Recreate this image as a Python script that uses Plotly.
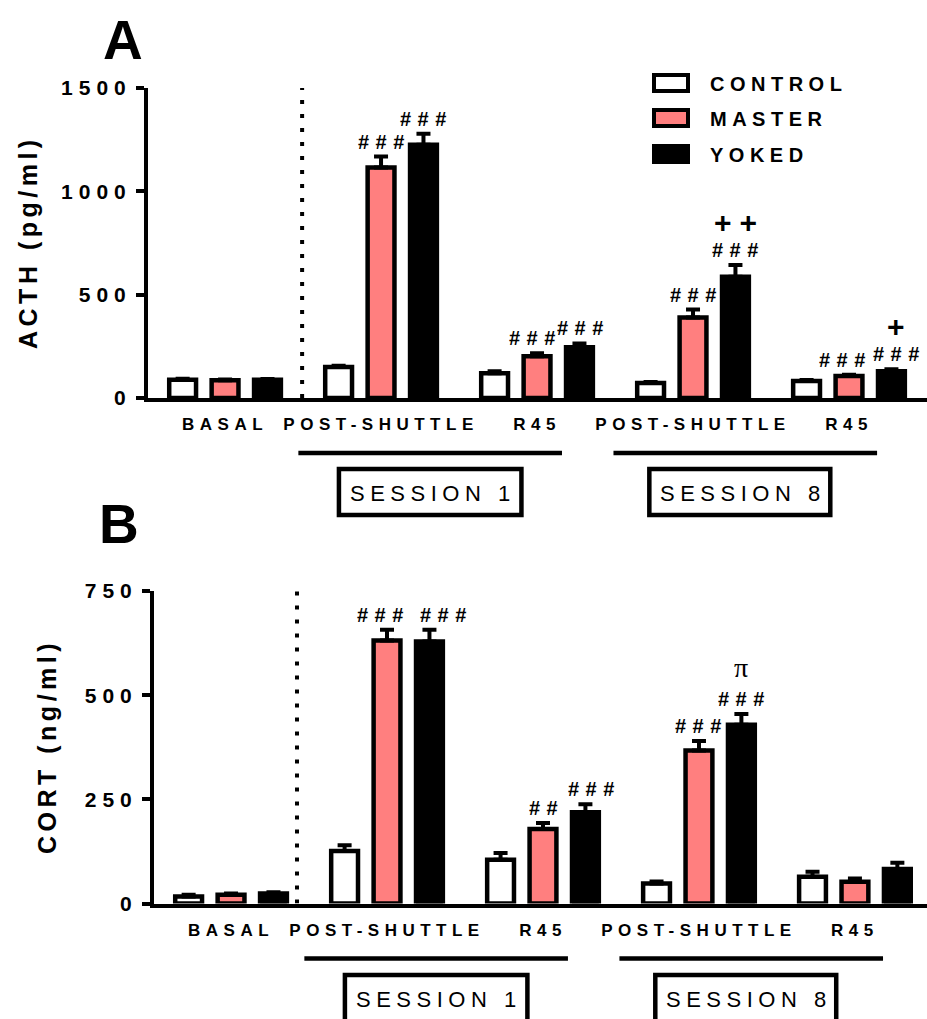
import plotly.graph_objects as go

W, H = 927, 1019

# ---------------- data ----------------
groups = ["BASAL", "POST-SHUTTLE", "R45", "POST-SHUTTLE", "R45"]
series = ["CONTROL", "MASTER", "YOKED"]
colors = ["#FFFFFF", "#FF7F7F", "#000000"]

acth_control = [88, 150, 120, 72, 82]
acth_master = [86, 1115, 202, 389, 106]
acth_yoked = [88, 1226, 245, 587, 130]
acth_control_sem = [5, 6, 10, 5, 5]
acth_master_sem = [4, 53, 14, 39, 6]
acth_yoked_sem = [4, 53, 19, 57, 9]

cort_control = [17, 126, 105, 48, 64]
cort_master = [21, 631, 179, 367, 52]
cort_yoked = [24, 629, 219, 429, 83]
cort_control_sem = [4, 14, 16, 5, 12]
cort_master_sem = [3, 26, 14, 23, 8]
cort_yoked_sem = [3, 28, 19, 26, 15]

acth_ticks = [0, 500, 1000, 1500]
cort_ticks = [0, 250, 500, 750]

# (group index, series index, label)
acth_marks = [(1, 1, "###"), (1, 2, "###"), (2, 1, "###"), (2, 2, "###"),
              (3, 1, "###"), (3, 2, "###"), (4, 1, "###"), (4, 2, "###")]
acth_top_marks = [(3, 2, "++"), (4, 2, "+")]
cort_marks = [(1, 1, "###"), (1, 2, "###"), (2, 1, "##"), (2, 2, "###"),
              (3, 1, "###"), (3, 2, "###")]
cort_top_marks = [(3, 2, "π")]

sessions = ["SESSION 1", "SESSION 8"]

# ---------------- layout constants ----------------
FONT = "Liberation Sans, Arial, sans-serif"
offsets = [-0.272, 0.0, 0.272]
BAR_W = 0.172
# horizontal nudges (px) of crowded significance labels: (panel, group, series)
label_nudge = {("A", 2, 1): -5, ("A", 2, 2): 1, ("A", 4, 1): -7, ("A", 4, 2): 5,
               ("B", 1, 1): -7, ("B", 1, 2): 14, ("B", 2, 2): 6}


def sp(text, ls):
    return f'<span style="letter-spacing:{ls}px">{text}</span>'


def px_x(p):
    return p / W


def px_y(p):
    return 1 - p / H


fig = go.Figure()

panels = [
    dict(key="A", vals=[acth_control, acth_master, acth_yoked],
         sems=[acth_control_sem, acth_master_sem, acth_yoked_sem],
         xa="x", ya="y", marks=acth_marks, top=acth_top_marks),
    dict(key="B", vals=[cort_control, cort_master, cort_yoked],
         sems=[cort_control_sem, cort_master_sem, cort_yoked_sem],
         xa="x2", ya="y2", marks=cort_marks, top=cort_top_marks),
]

annotations = []
shapes = []

for p in panels:
    for s in range(3):
        fig.add_trace(go.Bar(
            x=[g + offsets[s] for g in range(len(groups))],
            y=p["vals"][s],
            width=BAR_W,
            name=series[s],
            marker=dict(color=colors[s], line=dict(color="black", width=4.5)),
            error_y=dict(type="data", array=p["sems"][s],
                         arrayminus=[0] * len(groups), symmetric=False,
                         color="black", thickness=4, width=7),
            xaxis=p["xa"], yaxis=p["ya"], showlegend=False,
        ))
    for g, s, t in p["marks"]:
        annotations.append(dict(
            x=g + offsets[s], y=p["vals"][s][g] + p["sems"][s][g],
            xref=p["xa"], yref=p["ya"], text=sp(t, 6.5), showarrow=False,
            xanchor="center", yanchor="bottom", yshift=2,
            xshift=3 + label_nudge.get((p["key"], g, s), 0),
            font=dict(family=FONT, size=20, color="black", weight="bold")))
    for g, s, t in p["top"]:
        if t == "π":
            f = dict(family="Liberation Serif, serif", size=28, color="black")
            ys, txt, xs = 27, t, 0
        else:
            f = dict(family=FONT, size=30, color="black", weight="bold")
            ys, txt, xs = 22, sp(t, 8), 4
        annotations.append(dict(
            x=g + offsets[s], y=p["vals"][s][g] + p["sems"][s][g],
            xref=p["xa"], yref=p["ya"], text=txt, showarrow=False,
            xanchor="center", yanchor="bottom", yshift=2 + ys,
            xshift=xs + label_nudge.get((p["key"], g, s), 0), font=f))

tickfont_x = dict(family=FONT, size=17, color="black", weight="bold")
tickfont_y = dict(family=FONT, size=21, color="black", weight="bold")

common_x = dict(showline=True, linewidth=4, linecolor="black", ticks="",
                showgrid=False, zeroline=False, automargin=False,
                tickvals=list(range(len(groups))),
                ticktext=[sp(g, 5.5) for g in groups],
                tickfont=tickfont_x, ticklabelstandoff=8, fixedrange=True)
common_y = dict(showline=True, linewidth=4, linecolor="black", ticks="outside",
                ticklen=8, tickwidth=4, tickcolor="black", showgrid=False,
                zeroline=False, automargin=False, tickfont=tickfont_y,
                fixedrange=True)

fig.update_layout(
    template="none",
    width=W, height=H,
    margin=dict(l=0, r=0, t=0, b=0, pad=0, autoexpand=False),
    paper_bgcolor="white", plot_bgcolor="white",
    barmode="overlay", showlegend=False,
    xaxis=dict(domain=[px_x(148), 1], range=[-0.494, 4.5], anchor="y", **common_x),
    yaxis=dict(domain=[px_y(398), px_y(88)], range=[0, 1500], anchor="x",
               tickvals=acth_ticks, ticktext=[sp(str(v), 6) for v in acth_ticks],
               **common_y),
    xaxis2=dict(domain=[px_x(154), 1], range=[-0.494, 4.462], anchor="y2", **common_x),
    yaxis2=dict(domain=[px_y(903.5), px_y(591)], range=[0, 750], anchor="x2",
                tickvals=cort_ticks, ticktext=[sp(str(v), 6) for v in cort_ticks],
                **common_y),
)

# dotted separators
shapes.append(dict(type="line", xref="x", yref="y", x0=0.494, x1=0.494, y0=0, y1=1500,
                   line=dict(color="black", width=4, dash="4px,10px")))
shapes.append(dict(type="line", xref="x2", yref="y2", x0=0.423, x1=0.423, y0=0, y1=750,
                   line=dict(color="black", width=4, dash="4px,10px")))

# session brackets and boxes
line_spans = [(0.47, 2.16), (2.49, 4.18)]
box_spans = [(0.73, 1.90), (2.72, 3.88)]
for xa, line_y, box_top, box_bot, text_y in [("x", 453, 469, 515, 493),
                                              ("x2", 958.5, 975, 1035, 999)]:
    for (a, b), (c, d), t in zip(line_spans, box_spans, sessions):
        shapes.append(dict(type="line", xref=xa, yref="paper", x0=a, x1=b,
                           y0=px_y(line_y), y1=px_y(line_y),
                           line=dict(color="black", width=4.5)))
        shapes.append(dict(type="rect", xref=xa, yref="paper", x0=c, x1=d,
                           y0=px_y(box_bot), y1=px_y(box_top),
                           line=dict(color="black", width=4.5), fillcolor="white"))
        annotations.append(dict(x=(c + d) / 2, y=px_y(text_y), xref=xa, yref="paper",
                                xanchor="center", yanchor="middle",
                                text=sp(t, 5.5), showarrow=False, xshift=3,
                                font=dict(family=FONT, size=22, color="black")))

# legend
leg_rows = [83, 118, 154]
for s, yc in enumerate(leg_rows):
    shapes.append(dict(type="rect", xref="paper", yref="paper",
                       x0=px_x(654), x1=px_x(688), y0=px_y(yc + 8), y1=px_y(yc - 8),
                       line=dict(color="black", width=4), fillcolor=colors[s]))
    annotations.append(dict(x=px_x(708), y=px_y(yc + 1), xref="paper", yref="paper",
                            xanchor="left", yanchor="middle",
                            text=sp(series[s], 5.5), showarrow=False,
                            font=dict(family=FONT, size=20, color="black", weight="bold")))

# axis titles
annotations.append(dict(x=px_x(28), y=px_y(242), xref="paper", yref="paper",
                        xanchor="center", yanchor="middle",
                        text=sp("ACTH (pg/ml)", 4.5), textangle=-90, showarrow=False,
                        font=dict(family=FONT, size=25, color="black", weight="bold")))
annotations.append(dict(x=px_x(47), y=px_y(747), xref="paper", yref="paper",
                        xanchor="center", yanchor="middle",
                        text=sp("CORT (ng/ml)", 4.5), textangle=-90, showarrow=False,
                        font=dict(family=FONT, size=25, color="black", weight="bold")))

# panel letters
annotations.append(dict(x=px_x(123), y=px_y(40), xref="paper", yref="paper", text="A",
                        xanchor="center", yanchor="middle", showarrow=False,
                        font=dict(family=FONT, size=55, color="black", weight="bold")))
annotations.append(dict(x=px_x(119), y=px_y(524), xref="paper", yref="paper", text="B",
                        xanchor="center", yanchor="middle", showarrow=False,
                        font=dict(family=FONT, size=55, color="black", weight="bold")))

fig.update_layout(shapes=shapes, annotations=annotations)

fig.write_html("out.html", config={"displayModeBar": False},
               post_script="document.body.style.margin='0';document.body.style.overflow='hidden';")
